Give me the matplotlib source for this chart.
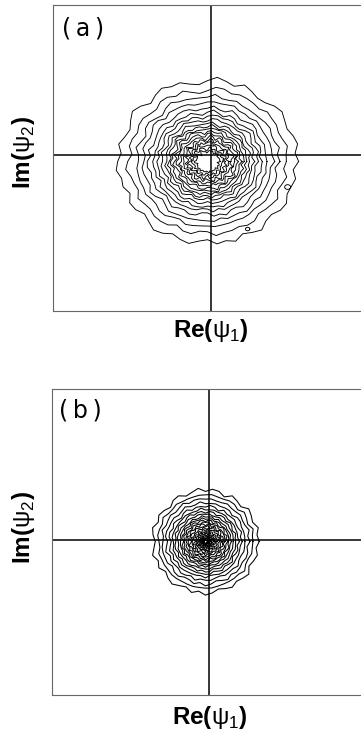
import numpy as np
import matplotlib.pyplot as plt

plt.rcParams['font.family'] = ['Liberation Sans', 'DejaVu Sans']
plt.rcParams['mathtext.fontset'] = 'custom'
plt.rcParams['mathtext.rm'] = 'Liberation Sans'

# contour radii, outermost first (same units as the axes)
radii_a = [0.88, 0.78, 0.70, 0.64, 0.58, 0.53, 0.49, 0.45, 0.41, 0.38,
           0.35, 0.32, 0.29, 0.26, 0.23, 0.20, 0.17, 0.14, 0.11]
radii_b = [0.52, 0.47, 0.43, 0.39, 0.355, 0.325, 0.30, 0.275, 0.25, 0.23,
           0.21, 0.19, 0.17, 0.15, 0.13, 0.11, 0.09, 0.075, 0.06, 0.045,
           0.03, 0.02]

# ripple of the contours around the ring, in hundredths, equal steps in angle
ripple_a = [3, 0, 4, 2, -1, 1, 4, 2, -2, -3, 0, 3, -2, 1, 4, 0, -4, -2, 2, 1,
            4, 1, -3, 2, 5, 1, -3, -1, 3, -1, 2, 4, 0, 1, -3, 2, 1, -3, 0, 4,
            2, -2, 1, 3, -1, -3, 2, 0, 3, -2, 1, 4, -1, -2, 2, 3, -1, 0, 2, -2]
ripple_b = [2, 0, 3, -1, 1, 3, -2, 0, 2, -3, 1, 2, -1, 3, 0, -2,
            2, 1, -3, 0, 2, -1, 3, 1, -2, 0, 3, -1, 2, -2, 1, 3,
            0, -2, 2, -1, 3, 1, -2, 0, 2, -1, 1, 3, -2, 0, 2, -1]

# how strongly each ring follows the ripple
amp_a = [1.0, 1.0, 0.95, 0.9, 0.85, 0.8, 0.75, 0.7, 0.7, 0.7,
         0.75, 0.8, 0.85, 0.9, 0.9, 0.9, 0.85, 0.8, 0.75]
amp_b = [0.9, 0.8, 0.75, 0.7, 0.65, 0.6, 0.55, 0.5, 0.5, 0.55,
         0.6, 0.65, 0.7, 0.7, 0.7, 0.65, 0.6, 0.55, 0.5, 0.45,
         0.4, 0.35]

centre_a = (-0.03, -0.065)
centre_b = (-0.035, -0.015)
squash_a = 0.92
squash_b = 0.98

# small closed loops outside the main rings: x, y, radius
islands_a = [(0.77, -0.32, 0.03), (0.37, -0.74, 0.022)]


def rings(ax, radii, ripple, amp, centre, squash, lw=0.65):
    n = len(ripple)
    theta = np.linspace(0, 2 * np.pi, n, endpoint=False)
    rip = np.array(ripple) * 0.01
    for k, r in enumerate(radii):
        wob = 0.55 * rip + 0.45 * np.roll(rip, 7 * k)
        rr = r + wob * amp[k]
        x = centre[0] + rr * np.cos(theta)
        y = centre[1] + squash * rr * np.sin(theta)
        ax.plot(np.append(x, x[0]), np.append(y, y[0]), color='k', lw=lw)


def frame(ax, xlim, ylim):
    ax.set_xlim(*xlim)
    ax.set_ylim(*ylim)
    ax.set_xticks([])
    ax.set_yticks([])
    for s in ax.spines.values():
        s.set_color('#666666')
        s.set_linewidth(0.8)
    ax.axhline(0, color='k', lw=1.1)
    ax.axvline(0, color='k', lw=1.1)


fig = plt.figure(figsize=(3.61, 7.40), dpi=100)

ax1 = fig.add_axes([0.146, 0.5797, 0.875, 0.4135])
frame(ax1, (-1.58, 1.58), (-1.56, 1.50))
rings(ax1, radii_a, ripple_a, amp_a, centre_a, squash_a)
t = np.linspace(0, 2 * np.pi, 13)
for cx, cy, r in islands_a:
    ax1.plot(cx + r * np.cos(t), cy + 0.8 * r * np.sin(t), color='k', lw=0.65)

ax2 = fig.add_axes([0.1432, 0.0608, 0.875, 0.4135])
frame(ax2, (-1.573, 1.587), (-1.55, 1.51))
rings(ax2, radii_b, ripple_b, amp_b, centre_b, squash_b, lw=0.75)

label_kw = dict(fontsize=17.5, fontweight='bold', ha='center', va='center')
fig.text(0.5837, 0.553, r'Re($\mathrm{\psi}_1$)', **label_kw)
fig.text(0.064, 0.794, r'Im($\mathrm{\psi}_2$)', rotation=90, **label_kw)
fig.text(0.582, 0.030, r'Re($\mathrm{\psi}_1$)', **label_kw)
fig.text(0.064, 0.2865, r'Im($\mathrm{\psi}_2$)', rotation=90, **label_kw)

fig.text(0.23, 0.962, '(\u2009a\u2009)', fontsize=17, family='DejaVu Sans',
         ha='center', va='center')
fig.text(0.2216, 0.4446, '(\u2009b\u2009)', fontsize=17, family='DejaVu Sans',
         ha='center', va='center')

fig.savefig('out.png', dpi=100)
